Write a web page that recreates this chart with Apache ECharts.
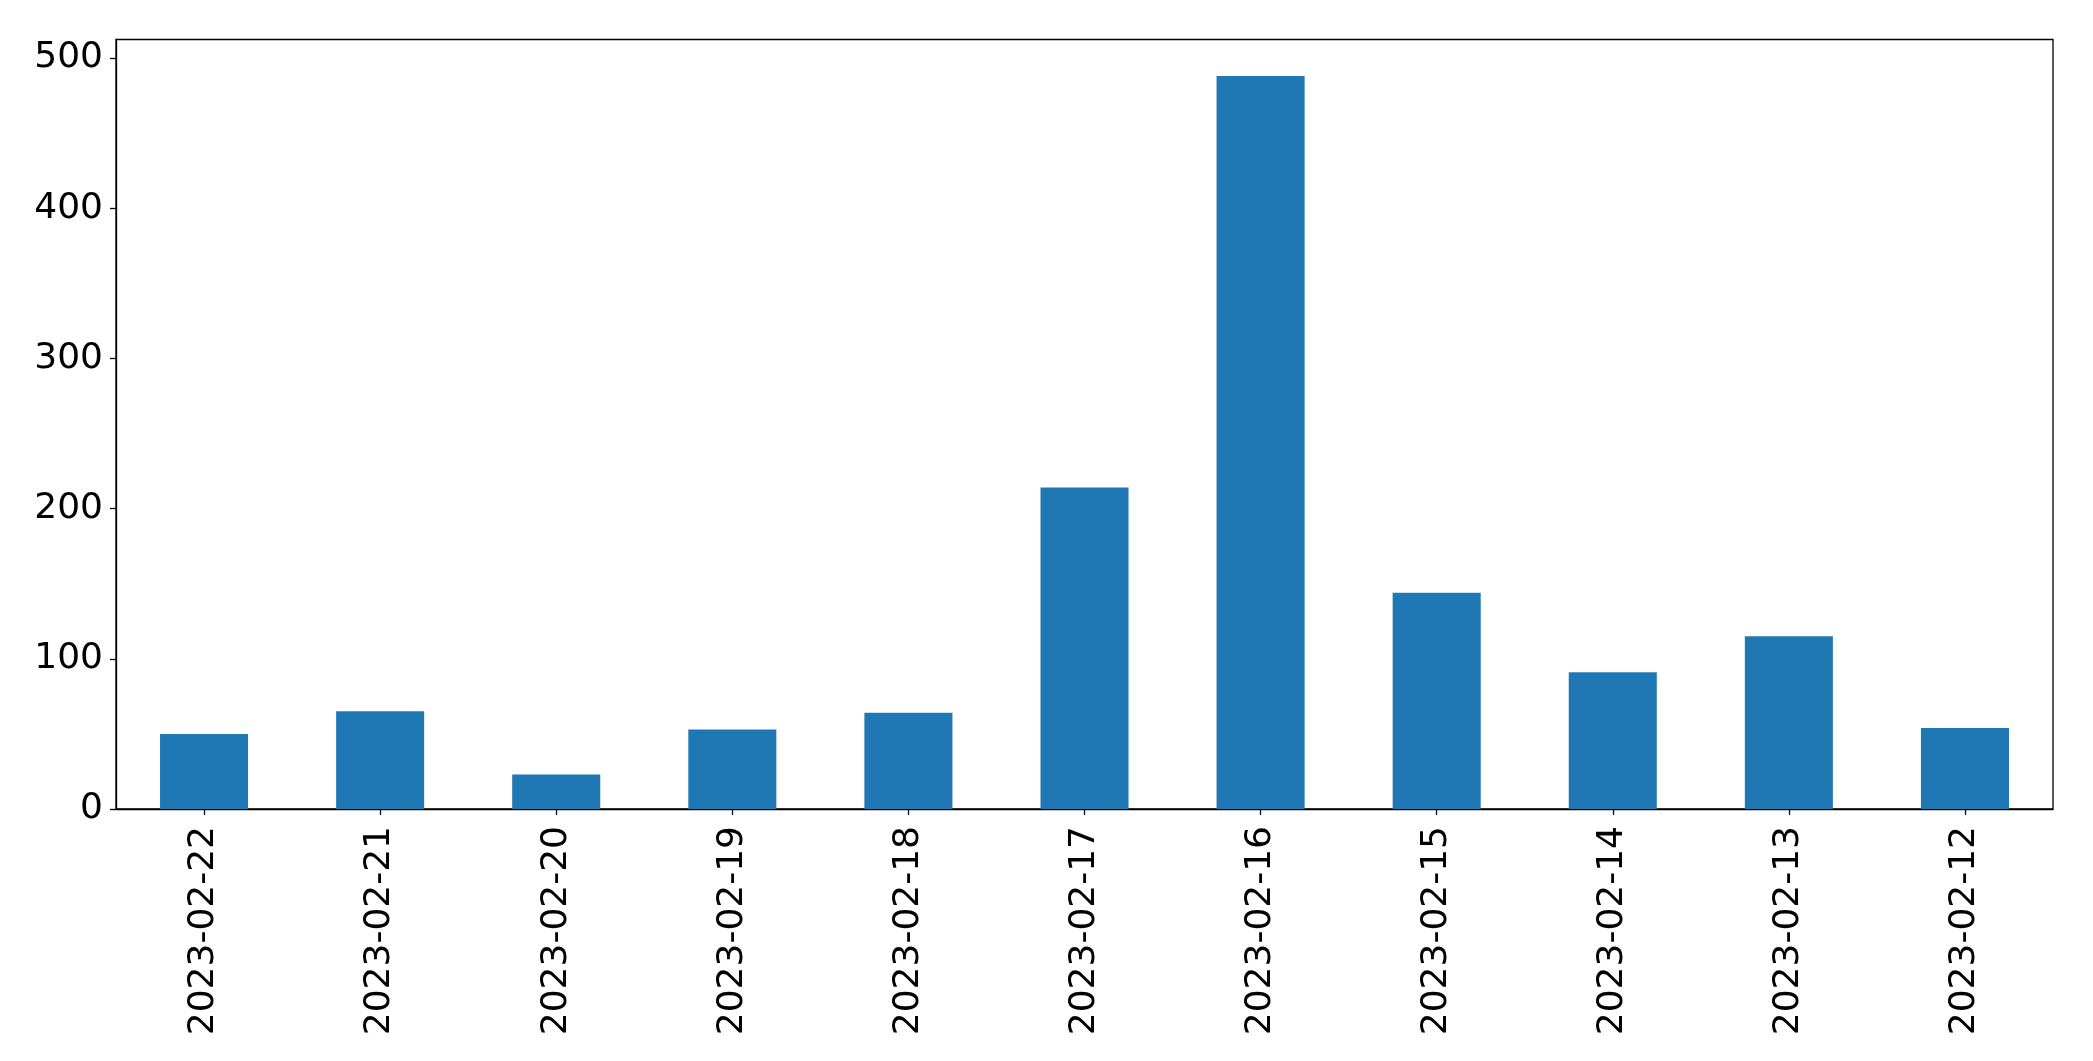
<!DOCTYPE html>
<html>
<head>
<meta charset="utf-8">
<script src="https://cdn.jsdelivr.net/npm/echarts@6/dist/echarts.min.js"></script>
<style>
html,body{margin:0;padding:0;background:#fff;}
#chart{width:2093px;height:1061px;}
</style>
</head>
<body>
<div id="chart"></div>
<script>
const categories = ["2023-02-22","2023-02-21","2023-02-20","2023-02-19","2023-02-18","2023-02-17","2023-02-16","2023-02-15","2023-02-14","2023-02-13","2023-02-12"];
const values = [50, 65, 23, 53, 64, 214, 488, 144, 91, 115, 54];
const yTicks = [0, 100, 200, 300, 400, 500];

const chart = echarts.init(document.getElementById('chart'), null, {renderer: 'canvas'});
const font = 'DejaVu Sans';
chart.setOption({
  animation: false,
  backgroundColor: '#ffffff',
  grid: {
    left: 116, right: 40, top: 39.5, bottom: 252,
    show: true, borderColor: '#000', borderWidth: 1.3, backgroundColor: 'transparent'
  },
  xAxis: {
    type: 'category',
    data: categories,
    boundaryGap: true,
    axisLine: {show: true, lineStyle: {color: '#000', width: 1.3}},
    axisTick: {show: true, alignWithLabel: true, length: 6, lineStyle: {color: '#000', width: 1.3}},
    axisLabel: {rotate: 90, margin: 17, color: '#000', fontFamily: font, fontSize: 36}
  },
  yAxis: {
    type: 'value',
    min: 0,
    max: 512.3,
    interval: 100,
    splitLine: {show: false},
    axisLine: {show: true, lineStyle: {color: '#000', width: 1.3}},
    axisTick: {show: true, length: 6, lineStyle: {color: '#000', width: 1.3}},
    axisLabel: {
      margin: 13, color: '#000', fontFamily: font, fontSize: 36,
      showMaxLabel: false,
      formatter: function (v) { return yTicks.indexOf(v) >= 0 ? String(v) : ''; }
    }
  },
  series: [{
    type: 'bar',
    data: values,
    barWidth: '50%',
    itemStyle: {color: '#1f77b4'}
  }]
});
</script>
</body>
</html>
